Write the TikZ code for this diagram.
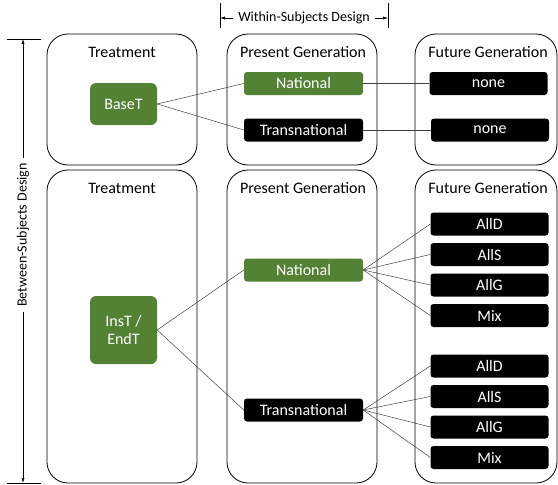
\documentclass[tikz,border=0pt]{standalone}
\usepackage{fontspec}
\setmainfont{Carlito}
\usepackage{xcolor}
\usetikzlibrary{arrows.meta}
\definecolor{treatgreen}{HTML}{548235}
\tikzset{
  panel/.style={draw, line width=0.8pt, rounded corners=21pt, minimum width=150pt},
  title/.style={font=\fontsize{16}{18}\selectfont},
  greenbox/.style={fill=treatgreen, rounded corners=3pt, text=white, align=center, font=\fontsize{16}{18}\selectfont, minimum width=119pt, minimum height=23pt, inner sep=0pt},
  blackbox/.style={fill=black, rounded corners=3pt, text=white, align=center, font=\fontsize{16}{18}\selectfont, minimum width=118pt, minimum height=23pt, inner sep=0pt},
  link/.style={draw=black!75, line width=0.5pt},
  dim/.style={-{Latex[length=5pt,width=3pt]}, line width=0.5pt},
  dimtext/.style={font=\fontsize{14}{16}\selectfont, inner sep=5pt}
}
\begin{document}
\begin{tikzpicture}[x=1pt,y=-1pt]
  \useasboundingbox (0,0) rectangle (558,485);

  % Panels
  \node[panel, minimum height=131pt] (treatA) at (122,99.5) {};
  \node[panel, minimum height=131pt] (presA) at (302,99.5) {};
  \node[panel, minimum height=131pt, minimum width=142pt] (futA) at (486,99.5) {};
  \node[panel, minimum height=313pt] (treatB) at (122,326.5) {};
  \node[panel, minimum height=313pt] (presB) at (302,326.5) {};
  \node[panel, minimum height=313pt, minimum width=142pt] (futB) at (486,326.5) {};

  % Titles
  \node[title] (tTreatA) at (122,52) {Treatment};
  \node[title] (tPresA) at (303,52) {Present Generation};
  \node[title] (tFutA) at (488,52) {Future Generation};
  \node[title] (tTreatB) at (122,188) {Treatment};
  \node[title] (tPresB) at (303,188) {Present Generation};
  \node[title] (tFutB) at (488,188) {Future Generation};

  % Top row
  \node[greenbox, minimum width=67pt, minimum height=42pt, rounded corners=6pt] (baseT) at (123.5,104) {BaseT};
  \node[greenbox] (natA) at (303.5,83.5) {National};
  \node[blackbox, minimum width=119pt] (transA) at (303.5,130) {Transnational};
  \node[blackbox] (noneA) at (488.5,83.5) {none};
  \node[blackbox] (noneB) at (490,130) {none};
  \draw[link] (baseT.east) -- (natA.west);
  \draw[link] (baseT.east) -- (transA.west);
  \draw[link] (natA.east) -- (noneA.west);
  \draw[link] (transA.east) -- (noneB.west);

  % Bottom row
  \node[greenbox, minimum width=67pt, minimum height=68pt, rounded corners=6pt] (insT) at (123.5,330) {InsT /\\EndT};
  \node[greenbox] (natB) at (303.5,270) {National};
  \node[blackbox, minimum width=119pt] (transB) at (303.5,410) {Transnational};
  \draw[link] (insT.east) -- (natB.west);
  \draw[link] (insT.east) -- (transB.west);
  \foreach \lab/\y/\n in {AllD/224/1,AllS/254.5/2,AllG/285/3,Mix/315.5/4} {
    \node[blackbox] (natF\n) at (489.5,\y) {\lab};
    \draw[link] (natB.east) -- (natF\n.west);
  }
  \foreach \lab/\y/\n in {AllD/366/1,AllS/396.5/2,AllG/427/3,Mix/457.5/4} {
    \node[blackbox] (transF\n) at (489.5,\y) {\lab};
    \draw[link] (transB.east) -- (transF\n.west);
  }

  % Within-subjects dimension
  \draw[line width=0.5pt] (220,3) -- (220,28);
  \draw[line width=0.5pt] (388,3) -- (388,28);
  \coordinate (withinL) at (220,18);
  \coordinate (withinR) at (388,18);
  \node[dimtext] (within) at (304,18) {Within-Subjects Design};
  \draw[dim] (within.west) -- (withinL);
  \draw[dim] (within.east) -- (withinR);

  % Between-subjects dimension
  \draw[line width=0.5pt] (7,39) -- (41,39);
  \draw[line width=0.5pt] (7,483) -- (41,483);
  \coordinate (betweenT) at (23,39);
  \coordinate (betweenB) at (23,483);
  \node[dimtext, rotate=90] (between) at (23,235) {Between-Subjects Design};
  \draw[dim] (between.east) -- (betweenT);
  \draw[dim] (between.west) -- (betweenB);
\end{tikzpicture}
\end{document}
